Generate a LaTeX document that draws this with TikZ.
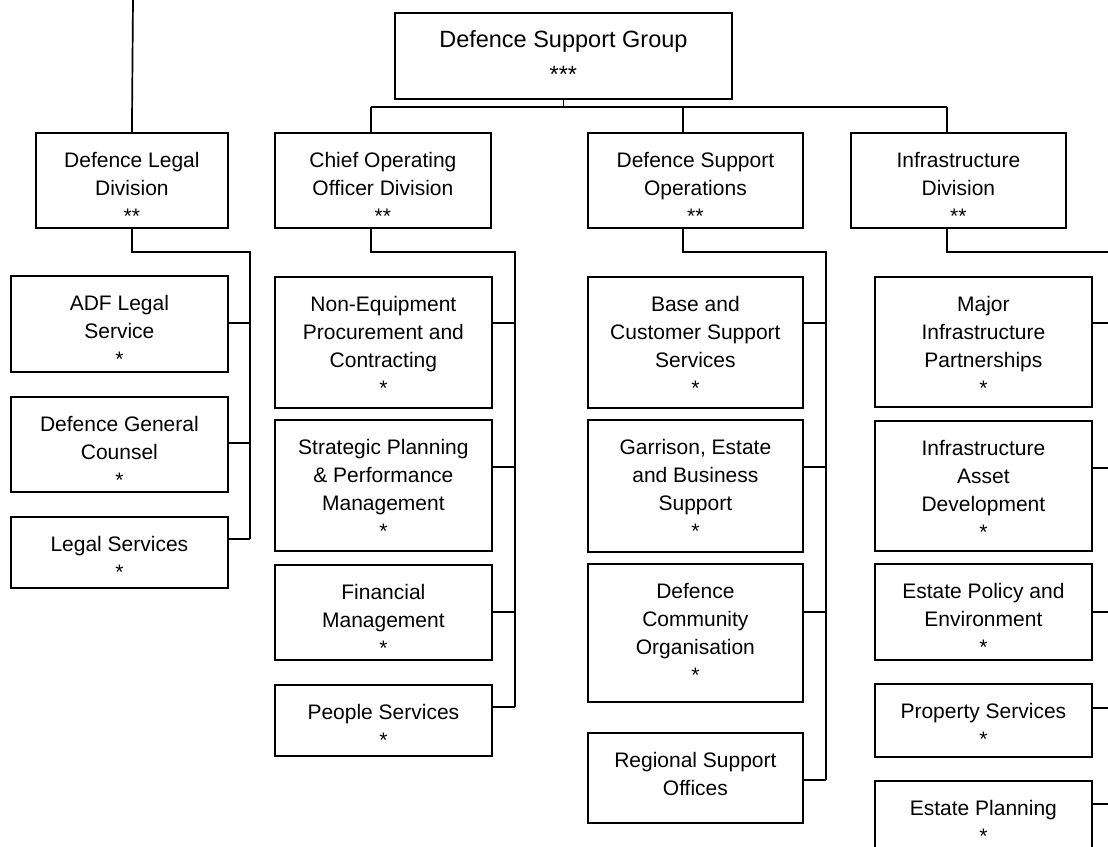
\documentclass[tikz,border=0pt]{standalone}
\usepackage{fontspec}
\setmainfont{Liberation Sans}
% A unit box: [style]{name}{left}{top}{width}{height}{text}; text is top aligned
\newcommand\orgunit[7][]{%
  \node[unitbox,#1] (#2) at (#3,#4)
    {\parbox[c][#6pt][t]{#5pt}{\centering\rule{0pt}{35pt}#7}};}
\begin{document}
\begin{tikzpicture}[x=1pt,y=-1pt,
  link/.style={line width=1.7pt},
  unitbox/.style={draw, line width=1.8pt, inner sep=0pt, anchor=north west,
    font=\fontsize{21}{28}\selectfont},
  headbox/.style={font=\fontsize{23.5}{35}\selectfont}]
\useasboundingbox (0,0) rectangle (1108,846);
\clip (0,0) rectangle (1108,846);

% group head
\orgunit[headbox]{dsg}{394}{12}{337}{86}{Defence Support Group\\{}***}

% divisions
\orgunit{legal}{35}{132}{192}{95}{Defence Legal\\Division\\{}**}
\orgunit{coo}{274}{132}{216}{95}{Chief Operating\\Officer Division\\{}**}
\orgunit{dso}{587}{132}{215}{95}{Defence Support\\Operations\\{}**}
\orgunit{infra}{850}{132}{215}{95}{Infrastructure\\Division\\{}**}

% legal branches
\orgunit{adf}{10}{275}{217}{96}{ADF Legal\\Service\\{}*}
\orgunit{dgc}{10}{396}{217}{95}{Defence General\\Counsel\\{}*}
\orgunit{legsvc}{10}{516}{217}{71}{Legal Services\\{}*}

% chief operating officer branches
\orgunit{npc}{274}{276}{217}{131}{Non-Equipment\\Procurement and\\Contracting\\{}*}
\orgunit{spm}{274}{419}{217}{131}{Strategic Planning\\\& Performance\\Management\\{}*}
\orgunit{fin}{274}{564}{217}{95}{Financial\\Management\\{}*}
\orgunit{ppl}{274}{684}{217}{71}{People Services\\{}*}

% support operations branches
\orgunit{bcs}{587}{276}{215}{131}{Base and\\Customer Support\\Services\\{}*}
\orgunit{geb}{587}{419}{215}{132}{Garrison, Estate\\and Business\\Support\\{}*}
\orgunit{dco}{587}{563}{215}{138}{Defence\\Community\\Organisation\\{}*}
\orgunit{rso}{587}{732}{215}{90}{Regional Support\\Offices}

% infrastructure branches
\orgunit{mip}{874}{276}{217}{130}{Major\\Infrastructure\\Partnerships\\{}*}
\orgunit{iad}{874}{420}{217}{130}{Infrastructure\\Asset\\Development\\{}*}
\orgunit{epe}{874}{563}{217}{96}{Estate Policy and\\Environment\\{}*}
\orgunit{prs}{874}{683}{217}{73}{Property Services\\{}*}
\orgunit{epl}{874}{780}{217}{71}{Estate Planning\\{}*}

% drop points under and above the divisions
\path ([xshift=97pt]coo.north west) coordinate (cooN)
      ([xshift=97pt]coo.south west) coordinate (cooS)
      ([xshift=96pt]dso.north west) coordinate (dsoN)
      ([xshift=96pt]dso.south west) coordinate (dsoS)
      ([xshift=97pt]infra.north west) coordinate (infraN)
      ([xshift=97pt]infra.south west) coordinate (infraS);
\coordinate (topbus) at (0,107);
\coordinate (uplink) at (133,0);
\coordinate (legalbus) at (250,252);
\coordinate (coobus) at (515,252);
\coordinate (dsobus) at (826,252);
\coordinate (infrabus) at (1125,252);

% side attachment points of the branch boxes
\foreach \n/\d in {adf/48,dgc/47,legsvc/23,npc/47,spm/48,fin/48,ppl/23,
                   bcs/47,geb/48,dco/49,rso/48,mip/47,iad/48,epe/49,prs/25,epl/24}
  \coordinate (\n C) at ([yshift=-\d pt]\n.north east);

% head to divisions
\draw[link] (uplink) -- (legal.north);
\draw[link] (dsg.south) -- (dsg.south |- topbus);
\draw[link] (cooN |- topbus) -- (infraN |- topbus);
\draw[link] (cooN |- topbus) -- (cooN);
\draw[link] (dsoN |- topbus) -- (dsoN);
\draw[link] (infraN |- topbus) -- (infraN);

% division buses
\draw[link] (legal.south) |- (legalbus) -- (legalbus |- legsvcC);
\draw[link] (cooS) |- (coobus) -- (coobus |- pplC);
\draw[link] (dsoS) |- (dsobus) -- (dsobus |- rsoC);
\draw[link] (infraS) |- (infrabus) -- (infrabus |- eplC);

% branches to buses
\foreach \n in {adf,dgc,legsvc} \draw[link] (\n C) -- (\n C -| legalbus);
\foreach \n in {npc,spm,fin,ppl} \draw[link] (\n C) -- (\n C -| coobus);
\foreach \n in {bcs,geb,dco,rso} \draw[link] (\n C) -- (\n C -| dsobus);
\foreach \n in {mip,iad,epe,prs,epl} \draw[link] (\n C) -- (\n C -| infrabus);
\end{tikzpicture}
\end{document}
